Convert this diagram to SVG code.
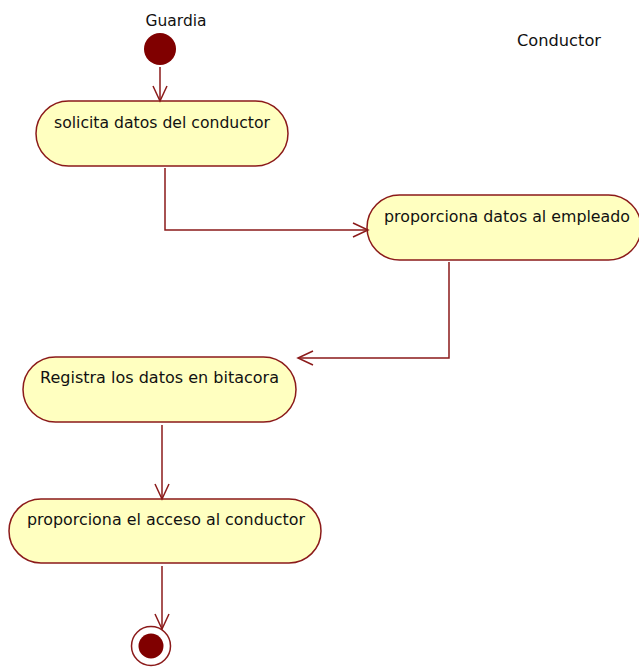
<svg xmlns="http://www.w3.org/2000/svg" width="639" height="667" viewBox="0 0 639 667">
<defs>
<style>
.act{fill:#ffffc0;stroke:#8b1a1a;stroke-width:1.5}
.lbl{font-family:"DejaVu Sans",sans-serif;font-size:16.5px;fill:#111;text-anchor:middle}
.conn{fill:none;stroke:#8b1a1a;stroke-width:1.5}
</style>
<marker id="arr" markerUnits="userSpaceOnUse" markerWidth="20" markerHeight="20" viewBox="0 0 20 20" refX="16" refY="10" orient="auto">
<path d="M1,3 L16,10 L1,17" fill="none" stroke="#8b1a1a" stroke-width="1.5"/>
</marker>
</defs>
<rect width="639" height="667" fill="#fff"/>
<text class="lbl" x="176" y="26" textLength="61" lengthAdjust="spacingAndGlyphs">Guardia</text>
<text class="lbl" x="559" y="46" textLength="84" lengthAdjust="spacingAndGlyphs">Conductor</text>
<g id="initial"><circle cx="160" cy="49" r="16" fill="#800000"/></g>
<g id="n1"><rect class="act" x="36" y="101" width="252" height="65" rx="32.5"/><text class="lbl" x="162" y="128" textLength="216" lengthAdjust="spacingAndGlyphs">solicita datos del conductor</text></g>
<g id="n2"><rect class="act" x="367" y="195" width="274" height="65" rx="32.5"/><text class="lbl" x="507" y="222" textLength="246" lengthAdjust="spacingAndGlyphs">proporciona datos al empleado</text></g>
<g id="n3"><rect class="act" x="23" y="357" width="273" height="65" rx="32.5"/><text class="lbl" x="159.5" y="383" textLength="239" lengthAdjust="spacingAndGlyphs">Registra los datos en bitacora</text></g>
<g id="n4"><rect class="act" x="9" y="499" width="312" height="64" rx="32"/><text class="lbl" x="166" y="525" textLength="278" lengthAdjust="spacingAndGlyphs">proporciona el acceso al conductor</text></g>
<g id="final"><circle cx="151" cy="646" r="19.5" fill="#fff" stroke="#8b1a1a" stroke-width="1.5"/><circle cx="151" cy="646" r="12.5" fill="#800000"/></g>
<g id="connectors">
<path class="conn" d="M160,67 L160,101" marker-end="url(#arr)"/>
<path class="conn" d="M165,168 L165,230 L368,230" marker-end="url(#arr)"/>
<path class="conn" d="M449,262 L449,358 L298,358" marker-end="url(#arr)"/>
<path class="conn" d="M162,425 L162,499" marker-end="url(#arr)"/>
<path class="conn" d="M162,566 L162,629" marker-end="url(#arr)"/>
</g>
</svg>
